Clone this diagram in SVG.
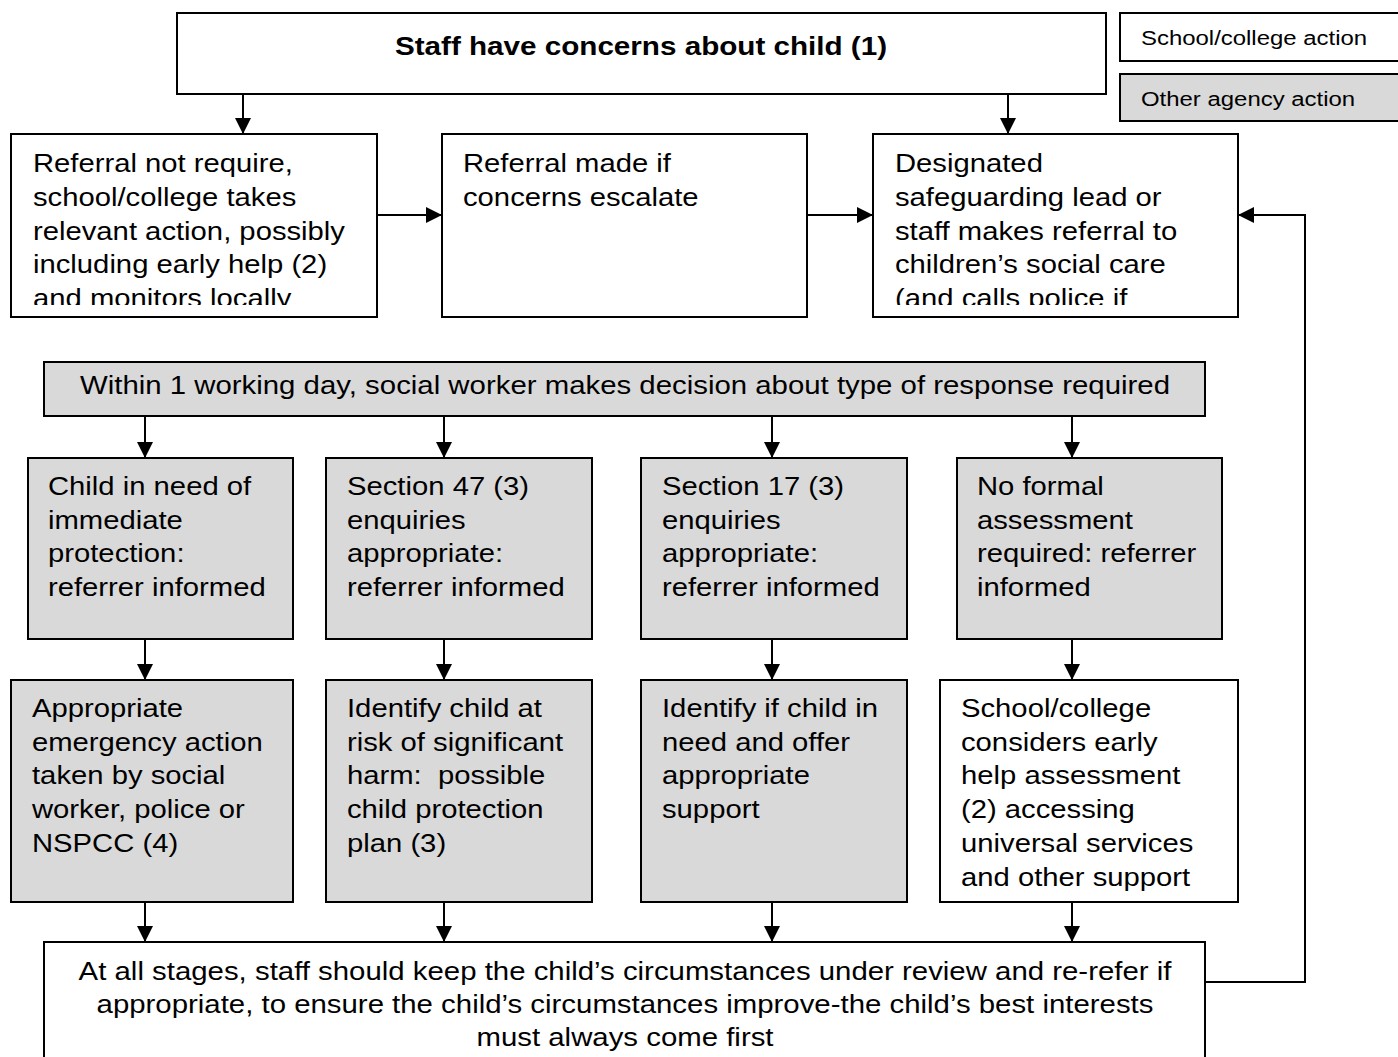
<svg xmlns="http://www.w3.org/2000/svg" width="1398" height="1057" viewBox="0 0 1398 1057">
<style>
.b{fill:#fff;stroke:#000;stroke-width:2}
.g{fill:#d9d9d9;stroke:#000;stroke-width:2}
.t{font-family:"Liberation Sans",Arial,sans-serif;font-size:26px;fill:#000}
.l{font-family:"Liberation Sans",Arial,sans-serif;font-size:21px;fill:#000}
.c{stroke:#000;stroke-width:2;fill:none}
</style>
<defs>
<marker id="ad" viewBox="0 0 16 16" markerWidth="16" markerHeight="16" refX="16" refY="8" orient="auto" markerUnits="userSpaceOnUse"><path d="M0,0 L16,8 L0,16 z" fill="#000"/></marker>
<clipPath id="c1"><rect x="11" y="134" width="366" height="171"/></clipPath>
<clipPath id="c3"><rect x="873" y="134" width="366" height="171"/></clipPath>
</defs>
<g id="connectors">
<path class="c" d="M243,94 V134" marker-end="url(#ad)"/>
<path class="c" d="M1008,94 V134" marker-end="url(#ad)"/>
<path class="c" d="M377,215 H442" marker-end="url(#ad)"/>
<path class="c" d="M807,215 H873" marker-end="url(#ad)"/>
<path class="c" d="M1205,982 H1305 V215 H1238" marker-end="url(#ad)"/>
<path class="c" d="M145,416 V458" marker-end="url(#ad)"/>
<path class="c" d="M444,416 V458" marker-end="url(#ad)"/>
<path class="c" d="M772,416 V458" marker-end="url(#ad)"/>
<path class="c" d="M1072,416 V458" marker-end="url(#ad)"/>
<path class="c" d="M145,639 V680" marker-end="url(#ad)"/>
<path class="c" d="M444,639 V680" marker-end="url(#ad)"/>
<path class="c" d="M772,639 V680" marker-end="url(#ad)"/>
<path class="c" d="M1072,639 V680" marker-end="url(#ad)"/>
<path class="c" d="M145,902 V942" marker-end="url(#ad)"/>
<path class="c" d="M444,902 V942" marker-end="url(#ad)"/>
<path class="c" d="M772,902 V942" marker-end="url(#ad)"/>
<path class="c" d="M1072,902 V942" marker-end="url(#ad)"/>
</g>
<g id="legend-school">
<rect class="b" x="1120" y="13" width="290" height="48"/>
<text class="l" transform="translate(1141,0) scale(1.14,1)" x="0" y="45">School/college action</text>
</g>
<g id="legend-other">
<rect class="g" x="1120" y="74" width="290" height="47"/>
<text class="l" transform="translate(1141,0) scale(1.14,1)" x="0" y="106">Other agency action</text>
</g>
<g id="n-start">
<rect class="b" x="177" y="13" width="929" height="81"/>
<text class="t" transform="translate(641,0) scale(1.14,1)" x="0" y="55" text-anchor="middle" font-size="28" font-weight="bold">Staff have concerns about child (1)</text>
</g>
<g id="n-notrequired">
<rect class="b" x="11" y="134" width="366" height="183"/>
<g clip-path="url(#c1)"><text class="t" transform="translate(33,0) scale(1.125,1)"><tspan x="0" y="172">Referral not require,</tspan><tspan x="0" y="206">school/college takes</tspan><tspan x="0" y="240">relevant action, possibly</tspan><tspan x="0" y="273">including early help (2)</tspan><tspan x="0" y="307">and monitors locally</tspan></text></g>
</g>
<g id="n-escalate">
<rect class="b" x="442" y="134" width="365" height="183"/>
<text class="t" transform="translate(463,0) scale(1.125,1)"><tspan x="0" y="172">Referral made if</tspan><tspan x="0" y="206">concerns escalate</tspan></text>
</g>
<g id="n-dsl">
<rect class="b" x="873" y="134" width="365" height="183"/>
<g clip-path="url(#c3)"><text class="t" transform="translate(895,0) scale(1.125,1)"><tspan x="0" y="172">Designated</tspan><tspan x="0" y="206">safeguarding lead or</tspan><tspan x="0" y="240">staff makes referral to</tspan><tspan x="0" y="273">children’s social care</tspan><tspan x="0" y="307">(and calls police if</tspan></text></g>
</g>
<g id="n-decision">
<rect class="g" x="44" y="362" width="1161" height="54"/>
<text class="t" transform="translate(625,0) scale(1.13,1)" x="0" y="394" text-anchor="middle">Within 1 working day, social worker makes decision about type of response required</text>
</g>
<g id="n-immediate">
<rect class="g" x="28" y="458" width="265" height="181"/>
<text class="t" transform="translate(48,0) scale(1.125,1)"><tspan x="0" y="495">Child in need of</tspan><tspan x="0" y="529">immediate</tspan><tspan x="0" y="562">protection:</tspan><tspan x="0" y="596">referrer informed</tspan></text>
</g>
<g id="n-s47">
<rect class="g" x="326" y="458" width="266" height="181"/>
<text class="t" transform="translate(347,0) scale(1.125,1)"><tspan x="0" y="495">Section 47 (3)</tspan><tspan x="0" y="529">enquiries</tspan><tspan x="0" y="562">appropriate:</tspan><tspan x="0" y="596">referrer informed</tspan></text>
</g>
<g id="n-s17">
<rect class="g" x="641" y="458" width="266" height="181"/>
<text class="t" transform="translate(662,0) scale(1.125,1)"><tspan x="0" y="495">Section 17 (3)</tspan><tspan x="0" y="529">enquiries</tspan><tspan x="0" y="562">appropriate:</tspan><tspan x="0" y="596">referrer informed</tspan></text>
</g>
<g id="n-noformal">
<rect class="g" x="957" y="458" width="265" height="181"/>
<text class="t" transform="translate(977,0) scale(1.125,1)"><tspan x="0" y="495">No formal</tspan><tspan x="0" y="529">assessment</tspan><tspan x="0" y="562">required: referrer</tspan><tspan x="0" y="596">informed</tspan></text>
</g>
<g id="n-emergency">
<rect class="g" x="11" y="680" width="282" height="222"/>
<text class="t" transform="translate(32,0) scale(1.125,1)"><tspan x="0" y="717">Appropriate</tspan><tspan x="0" y="751">emergency action</tspan><tspan x="0" y="784">taken by social</tspan><tspan x="0" y="818">worker, police or</tspan><tspan x="0" y="852">NSPCC (4)</tspan></text>
</g>
<g id="n-risk">
<rect class="g" x="326" y="680" width="266" height="222"/>
<text class="t" transform="translate(347,0) scale(1.125,1)" xml:space="preserve"><tspan x="0" y="717">Identify child at</tspan><tspan x="0" y="751">risk of significant</tspan><tspan x="0" y="784">harm:  possible</tspan><tspan x="0" y="818">child protection</tspan><tspan x="0" y="852">plan (3)</tspan></text>
</g>
<g id="n-need">
<rect class="g" x="641" y="680" width="266" height="222"/>
<text class="t" transform="translate(662,0) scale(1.125,1)"><tspan x="0" y="717">Identify if child in</tspan><tspan x="0" y="751">need and offer</tspan><tspan x="0" y="784">appropriate</tspan><tspan x="0" y="818">support</tspan></text>
</g>
<g id="n-earlyhelp">
<rect class="b" x="940" y="680" width="298" height="222"/>
<text class="t" transform="translate(961,0) scale(1.125,1)"><tspan x="0" y="717">School/college</tspan><tspan x="0" y="751">considers early</tspan><tspan x="0" y="784">help assessment</tspan><tspan x="0" y="818">(2) accessing</tspan><tspan x="0" y="852">universal services</tspan><tspan x="0" y="886">and other support</tspan></text>
</g>
<g id="n-review">
<rect class="b" x="44" y="942" width="1161" height="130"/>
<text class="t" transform="translate(625,0) scale(1.13,1)" text-anchor="middle"><tspan x="0" y="980">At all stages, staff should keep the child’s circumstances under review and re-refer if</tspan><tspan x="0" y="1013">appropriate, to ensure the child’s circumstances improve-the child’s best interests</tspan><tspan x="0" y="1046">must always come first</tspan></text>
</g>
</svg>
